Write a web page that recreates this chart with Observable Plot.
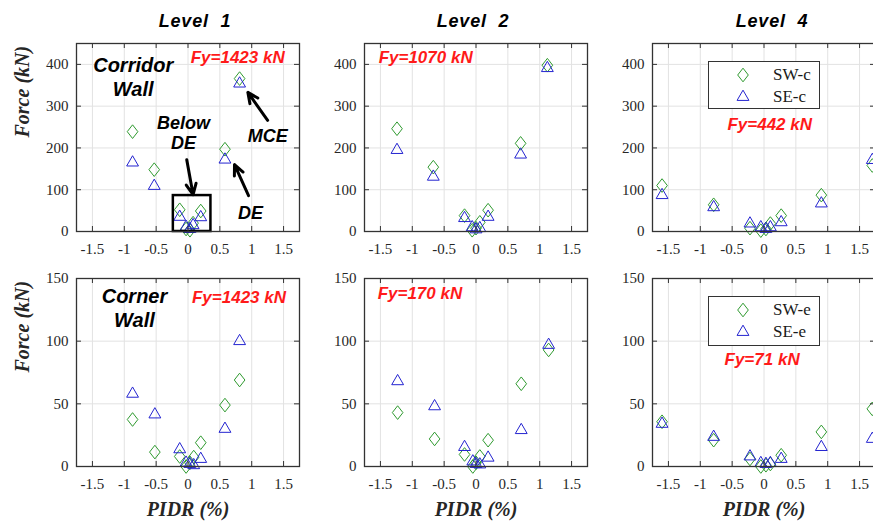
<!DOCTYPE html>
<html><head><meta charset="utf-8">
<script src="https://cdn.jsdelivr.net/npm/d3@7"></script>
<script src="https://cdn.jsdelivr.net/npm/@observablehq/plot@0.6"></script>
<style>
html,body{margin:0;padding:0;background:#fff;}
#fig{position:relative;width:873px;height:521px;overflow:hidden;background:#fff;}
.pan{position:absolute;font-family:"Liberation Serif",serif;font-size:15px;}
.title{position:absolute;top:11px;width:200px;margin-left:-100px;text-align:center;line-height:20px;font:italic bold 18px "Liberation Sans",Arial,sans-serif;color:#000;white-space:pre;letter-spacing:0.8px;}
.legend{position:absolute;width:110px;border:1px solid #333;background:#fff;font:17px "Liberation Serif",serif;color:#1a1a1a;}
.legend span{position:absolute;left:64px;line-height:20px;}
.legend svg{position:absolute;left:24px;}
</style></head>
<body><div id="fig"></div>
<script>
// ---------- axes / labels ----------
const xTicks = [-1.5, -1, -0.5, 0, 0.5, 1, 1.5];
const xDomain = [-1.75, 1.75];
const yTicksCorridor = [0, 100, 200, 300, 400];
const yDomainCorridor = [0, 450];
const yTicksCorner = [0, 50, 100, 150];
const yDomainCorner = [0, 150];
const levelTitles = ["Level  1", "Level  2", "Level  4"];
const legendCorridor = ["SW-c", "SE-c"];
const legendCorner = ["SW-e", "SE-e"];
const xLabel = "PIDR (%)";
const yLabel = "Force (kN)";

// ---------- Corridor wall (top row) ----------
const pidrCorL1 = [-0.87, -0.53, -0.13, -0.03, 0.03, 0.08, 0.20, 0.58, 0.81];
const swCorL1   = [239, 148, 52, 6, 3, 20, 49, 197, 366];
const seCorL1   = [165, 109, 35, 11, 6, 15, 34, 172, 354];

const pidrCorL2 = [-1.24, -0.67, -0.18, -0.06, 0.0, 0.06, 0.19, 0.70, 1.12];
const swCorL2   = [246, 154, 38, 3, 8, 22, 51, 211, 398];
const seCorL2   = [195, 131, 32, 10, 5, 8, 35, 184, 391];

const pidrCorL4 = [-1.60, -0.79, -0.22, -0.05, 0.03, 0.10, 0.27, 0.90, 1.70];
const swCorL4   = [110, 64, 8, 2, 6, 19, 38, 87, 158];
const seCorL4   = [87, 58, 19, 10, 6, 10, 22, 67, 171];

// ---------- Corner wall (bottom row) ----------
const pidrCrnL1 = [-0.87, -0.52, -0.13, -0.03, 0.03, 0.09, 0.20, 0.58, 0.81];
const swCrnL1   = [37.5, 11.5, 8, 0, 3, 7.5, 19, 49, 69];
const seCrnL1   = [58, 41.5, 13.7, 3, 2, 1, 6, 30, 100];

const pidrCrnL2 = [-1.23, -0.65, -0.18, -0.05, 0.0, 0.06, 0.19, 0.71, 1.14];
const swCrnL2   = [43, 22, 9.6, 0, 3, 8, 21, 66, 93];
const seCrnL2   = [68, 48, 15.5, 4, 2, 1.6, 7, 29, 97];

const pidrCrnL4 = [-1.60, -0.79, -0.22, -0.05, 0.03, 0.10, 0.27, 0.90, 1.70];
const swCrnL4   = [35.7, 21, 6, 0, 1, 2, 9, 27.6, 46];
const seCrnL4   = [34, 23.6, 8, 2.7, 2, 2.7, 6, 15.5, 22];

// ---------- annotations ----------
const fyTexts = ["Fy=1423 kN", "Fy=1070 kN", "Fy=442 kN", "Fy=1423 kN", "Fy=170 kN", "Fy=71 kN"];
const fyX     = [0.78, -0.79, 0.09, 0.80, -0.88, -0.03];
const fyY     = [416, 416, 256, 135, 138, 85];
const wallLabels = ["Corridor\nWall", "Corner\nWall"];
const wallX      = [-0.86, -0.84];
const wallY      = [372, 127];
const noteTexts = ["Below\nDE", "MCE", "DE"];
const noteX     = [-0.07, 1.25, 0.98];
const noteY     = [237, 230, 46];
const arrowX1 = [-0.02, 1.25, 0.95];
const arrowY1 = [172, 266, 86];
const arrowX2 = [0.08, 0.94, 0.73];
const arrowY2 = [88, 333, 160];
const boxX = [-0.23, 0.36];
const boxY = [0, 86];

const green = "#2f9a2f";
const blue = "#2424d0";
const serif = "'Liberation Serif', 'Times New Roman', serif";
const sans = "'Liberation Sans', Arial, sans-serif";
const diamondSymbol = {
  draw(ctx, size) {
    const s = Math.sqrt(size), w = 0.6 * s, h = 0.77 * s;
    ctx.moveTo(0, -h); ctx.lineTo(w, 0); ctx.lineTo(0, h); ctx.lineTo(-w, 0); ctx.closePath();
  }
};

const fig = document.getElementById("fig");
const colLeft = [76, 364, 652];
const rowTop = [43, 278];
const frameW = 223, frameH = 188;

const panels = [
  {row: 0, col: 0, pidr: pidrCorL1, sw: swCorL1, se: seCorL1, fy: 0, wall: 0, notes: true},
  {row: 0, col: 1, pidr: pidrCorL2, sw: swCorL2, se: seCorL2, fy: 1},
  {row: 0, col: 2, pidr: pidrCorL4, sw: swCorL4, se: seCorL4, fy: 2, legend: legendCorridor},
  {row: 1, col: 0, pidr: pidrCrnL1, sw: swCrnL1, se: seCrnL1, fy: 3, wall: 1},
  {row: 1, col: 1, pidr: pidrCrnL2, sw: swCrnL2, se: seCrnL2, fy: 4},
  {row: 1, col: 2, pidr: pidrCrnL4, sw: swCrnL4, se: seCrnL4, fy: 5, legend: legendCorner}
];

const sansBI = {fontFamily: sans, fontStyle: "italic", fontWeight: "bold"};

for (const p of panels) {
  const mL = p.col === 0 ? 76 : 60, mR = 6, mT = 10, mB = p.row === 0 ? 30 : 56;
  const yTicks = p.row === 0 ? yTicksCorridor : yTicksCorner;
  const yDomain = p.row === 0 ? yDomainCorridor : yDomainCorner;
  const idx = d3.range(p.pidr.length);
  const marks = [
    Plot.gridX(xTicks, {stroke: "#e2e2e2", strokeOpacity: 1}),
    Plot.gridY(yTicks, {stroke: "#e2e2e2", strokeOpacity: 1}),
    Plot.text([p.fy], {x: k => fyX[k], y: k => fyY[k], text: k => fyTexts[k], fill: "#ff1a1a", fontSize: 17, ...sansBI, ariaLabel: "fy"})
  ];
  if (p.wall !== undefined) {
    marks.push(Plot.text([p.wall], {x: k => wallX[k], y: k => wallY[k], text: k => wallLabels[k], fill: "#000", fontSize: 20, lineHeight: 1.2, ...sansBI, ariaLabel: "note"}));
  }
  if (p.notes) {
    marks.push(Plot.text(d3.range(noteTexts.length), {x: k => noteX[k], y: k => noteY[k], text: k => noteTexts[k], fill: "#000", fontSize: 18, lineHeight: 1.1, ...sansBI, ariaLabel: "note"}));
  }
  marks.push(
    Plot.dot(idx, {x: i => p.pidr[i], y: i => p.sw[i], symbol: diamondSymbol, r: 5, stroke: green, fill: "none", strokeWidth: 1}),
    Plot.dot(idx, {x: i => p.pidr[i], y: i => p.se[i], symbol: "triangle", r: 4.4, stroke: blue, fill: "none", strokeWidth: 1})
  );
  if (p.notes) {
    marks.push(
      Plot.rect([0], {x1: () => boxX[0], x2: () => boxX[1], y1: () => boxY[0], y2: () => boxY[1], fill: "none", stroke: "#000", strokeWidth: 2.5}),
      Plot.arrow(d3.range(arrowX1.length), {x1: k => arrowX1[k], y1: k => arrowY1[k], x2: k => arrowX2[k], y2: k => arrowY2[k], stroke: "#000", strokeWidth: 3, headLength: 13, headAngle: 50})
    );
  }
  marks.push(
    Plot.frame({stroke: "#333", strokeWidth: 1.3}),
    Plot.tickX(xTicks, {x: d => d, insetTop: frameH - 5, stroke: "#333"}),
    Plot.tickX(xTicks, {x: d => d, insetBottom: frameH - 5, stroke: "#333"}),
    Plot.tickY(yTicks, {y: d => d, insetRight: frameW - 5, stroke: "#333"}),
    Plot.tickY(yTicks, {y: d => d, insetLeft: frameW - 5, stroke: "#333"}),
    Plot.axisX(xTicks, {tickSize: 0, tickPadding: 12, tickFormat: d => String(d), label: null, fontFamily: serif, fontSize: 15}),
    Plot.axisY(yTicks, {tickSize: 0, tickPadding: 8, tickFormat: d => String(d), label: null, fontFamily: serif, fontSize: 15})
  );
  if (p.col === 0) {
    marks.push(Plot.text([yLabel], {frameAnchor: "left", dx: -54, rotate: -90, text: d => d, fontSize: 20, fontFamily: serif, fontStyle: "italic", fontWeight: "bold", fill: "#262626"}));
  }
  if (p.row === 1) {
    marks.push(Plot.text([xLabel], {frameAnchor: "bottom", dy: 49, text: d => d, fontSize: 20, fontFamily: serif, fontStyle: "italic", fontWeight: "bold", fill: "#262626"}));
  }
  const svg = Plot.plot({
    width: mL + frameW + mR, height: mT + frameH + mB,
    marginLeft: mL, marginRight: mR, marginTop: mT, marginBottom: mB,
    x: {domain: xDomain}, y: {domain: yDomain},
    style: {fontFamily: serif, fontSize: "15px", color: "#262626", background: "transparent", overflow: "visible"},
    marks
  });
  svg.classList.add("pan");
  svg.style.left = (colLeft[p.col] - mL) + "px";
  svg.style.top = (rowTop[p.row] - mT) + "px";
  fig.appendChild(svg);

  // subscript y in Fy
  svg.querySelectorAll('g[aria-label="fy"] text').forEach(t => {
    const s = t.textContent;
    if (!s.startsWith("Fy")) return;
    t.textContent = "F";
    const ns = "http://www.w3.org/2000/svg";
    const sub = document.createElementNS(ns, "tspan");
    sub.setAttribute("dy", "6"); sub.setAttribute("font-size", "12"); sub.textContent = "y";
    const rest = document.createElementNS(ns, "tspan");
    rest.setAttribute("dy", "-6"); rest.textContent = s.slice(2);
    t.appendChild(sub); t.appendChild(rest);
  });
  // white backgrounds behind annotation texts
  svg.querySelectorAll('g[aria-label="fy"] text, g[aria-label="note"] text').forEach(t => {
    const b = t.getBBox();
    const r = document.createElementNS("http://www.w3.org/2000/svg", "rect");
    r.setAttribute("x", b.x - 2); r.setAttribute("y", b.y - 1);
    r.setAttribute("width", b.width + 4); r.setAttribute("height", b.height + 2);
    r.setAttribute("fill", "#fff");
    if (t.getAttribute("transform")) r.setAttribute("transform", t.getAttribute("transform"));
    t.parentNode.insertBefore(r, t);
  });

  if (p.legend) {
    const lg = document.createElement("div");
    lg.className = "legend";
    lg.style.left = "708px";
    lg.style.top = (p.row === 0 ? 61 : 296) + "px";
    lg.style.height = (p.row === 0 ? 46 : 48) + "px";
    const syms = [{t: diamondSymbol, s: Math.PI * 25, c: green}, {t: d3.symbolTriangle, s: Math.PI * 4.4 * 4.4, c: blue}];
    p.legend.forEach((name, k) => {
      const cy = k === 0 ? 13 : 35;
      const sv = d3.create("svg").attr("width", 20).attr("height", 20).style("top", (cy - 10) + "px");
      sv.append("path").attr("transform", "translate(10,10)").attr("d", d3.symbol(syms[k].t, syms[k].s)()).attr("fill", "none").attr("stroke", syms[k].c);
      lg.appendChild(sv.node());
      const sp = document.createElement("span");
      sp.textContent = name; sp.style.top = (cy - 10) + "px";
      lg.appendChild(sp);
    });
    fig.appendChild(lg);
  }
}

// level titles
const titleX = [195, 473, 772];
levelTitles.forEach((t, k) => {
  const d = document.createElement("div");
  d.className = "title"; d.textContent = t; d.style.left = titleX[k] + "px";
  fig.appendChild(d);
});
</script>
</body></html>
